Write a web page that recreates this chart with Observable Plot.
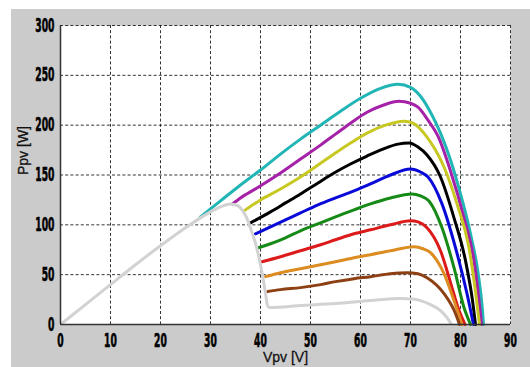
<!DOCTYPE html>
<html><head><meta charset="utf-8">
<script src="https://cdn.jsdelivr.net/npm/d3@7"></script>
<script src="https://cdn.jsdelivr.net/npm/@observablehq/plot@0.6"></script>
<style>
html,body{margin:0;padding:0;background:#fff;}
#wrap{position:relative;width:530px;height:367px;overflow:hidden;}
#bg{position:absolute;left:11px;top:9px;width:519px;height:358px;background:#cbcbcb;}
#chart{position:absolute;left:0;top:0;}
</style></head><body>
<div id="wrap"><div id="bg"></div><div id="chart"></div></div>
<script>
const xTicks = [0,10,20,30,40,50,60,70,80,90];
const yTicks = [0,50,100,150,200,250,300];
const xLabel = "Vpv [V]";
const yLabel = "Ppv [W]";

// [Vpv, Ppv]
const curve1 = [[28,108],[32,124],[36,140],[40,155],[44,171],[48,186],[52,200],[56,214],[60,227],[64,237],[67.5,241],[70,238],[72,229],[74,213],[76,192],[78,165],[80,131],[82,91],[83.5,52],[84.4,14],[84.6,0]];
const curve2 = [[34.4,121],[36,127],[39.3,137],[44,152],[48,166],[52,180],[55,191],[58,202],[61.3,213],[64.5,220],[67.7,224],[70,222],[71.5,218],[73.5,205],[75.5,189],[78,154],[80.7,107],[82.7,64],[83.8,20],[84.2,0]];
const curve3 = [[36.7,114],[40,125],[44,136],[48,148],[51.5,160],[54.7,171],[58,182],[61.3,192],[65,200],[68.7,204],[70.5,202],[73.3,188],[75,175],[76.7,158],[79.3,121],[81.7,77],[83,33],[83.8,0]];
const curve4 = [[38,102],[42,113],[45,122],[48,131],[51.5,142],[54.7,152],[58,161],[61.3,169],[64.5,176],[67.5,181],[69.7,182],[71.5,178],[73.3,170],[76,148],[78.7,107],[81,64],[82.4,24],[83,0]];
const curve5 = [[39,91],[42,98],[45,105],[48,112],[51.5,120],[55,127],[58.7,134],[62,141],[66,150],[70,156],[72,153],[73.5,148],[76.3,121],[79,77],[81.3,31],[82.6,0]];
const curve6 = [[39.6,77],[42,81],[45,87],[48,94],[52,102],[55,108],[58.7,115],[62,121],[66,127],[70.3,131],[72,129],[73.7,124],[76.3,97],[78.7,57],[80.7,17],[82,0]];
const curve7 = [[40.3,63],[44,68],[48,74],[52,80],[55,85],[58.7,91],[62,95],[66,100],[70,104],[71.5,103],[73.3,97],[76,74],[78.3,37],[79.5,17],[80.9,0]];
const curve8 = [[41,48],[44,52],[48,56],[52,60],[55,63],[58.7,67],[62,70],[66,74],[70.7,78],[72.5,76],[74,72],[76.7,51],[78.7,24],[80.3,0]];
const curve9 = [[41.4,33],[44,35],[48,37],[52,40],[55,43],[58.7,46],[62,48],[66,51],[69.3,52],[71.5,51],[73.3,47],[76.7,31],[79,11],[79.8,0]];
const curve10 = [[0,0],[5,20],[10,40],[15,60],[20,79],[25,97],[28,107],[30,113],[32,118],[34,121],[35.5,119],[36.7,112],[37.5,104],[38.3,92],[39.2,78],[39.7,67],[40.3,52],[40.7,41],[41.1,28],[41.4,19],[41.8,17],[48,19],[55,21],[62,24],[68,26],[70.5,25.5],[72,24],[74,20],[76,14],[77.3,7],[78.2,0]];

const seriesNames = ["curve 1","curve 2","curve 3","curve 4","curve 5","curve 6","curve 7","curve 8","curve 9","curve 10"];
const seriesColors = ["#22b5b5","#a421a8","#c8c823","#000000","#0a0ad8","#168a16","#dc1a1a","#dc8c20","#8c4014","#d2d2d2"];
const seriesPoints = [curve1,curve2,curve3,curve4,curve5,curve6,curve7,curve8,curve9,curve10];

const data = seriesNames.flatMap((name,i) => seriesPoints[i].map(([v,p]) => ({series:name, v, p})));

const plot = Plot.plot({
  width:530, height:367,
  marginLeft:60, marginRight:20, marginTop:25, marginBottom:43,
  style:{background:"transparent", fontFamily:"'Liberation Sans', Arial, sans-serif", overflow:"visible", color:"#000"},
  x:{domain:[0,90]},
  y:{domain:[0,300]},
  color:{type:"ordinal", domain:seriesNames, range:seriesColors},
  marks:[
    Plot.frame({fill:"white", stroke:"none"}),
    Plot.gridX(xTicks.slice(1), {stroke:"#111", strokeOpacity:0.85, strokeDasharray:"3,2.2", strokeWidth:1}),
    Plot.gridY(yTicks.slice(1), {stroke:"#111", strokeOpacity:0.85, strokeDasharray:"3,2.2", strokeWidth:1}),
    Plot.line(data, {x:"v", y:"p", z:"series", stroke:"series", strokeWidth:3, curve:"monotone-x"}),
    Plot.ruleX([0], {stroke:"#333", strokeWidth:1.5}),
    Plot.ruleY([0], {stroke:"#333", strokeWidth:1.5}),
    Plot.axisX(xTicks, {tickSize:0, tickPadding:9, fontSize:19, fontWeight:"bold", fontFamily:"'Liberation Sans Narrow','DejaVu Sans Condensed',sans-serif", label:null}),
    Plot.axisY(yTicks, {tickSize:0, tickPadding:6, fontSize:19, fontWeight:"bold", fontFamily:"'Liberation Sans Narrow','DejaVu Sans Condensed',sans-serif", label:null}),
    Plot.text([xLabel], {frameAnchor:"bottom", lineAnchor:"top", dy:28, fontSize:14, fill:"#111", stroke:"#111", strokeWidth:0.3}),
    Plot.text([yLabel], {frameAnchor:"left", rotate:-90, dx:-37, fontSize:14, fill:"#111", stroke:"#111", strokeWidth:0.3})
  ]
});
document.getElementById("chart").appendChild(plot);
plot.querySelectorAll('g[aria-label="x-axis tick label"] text, g[aria-label="y-axis tick label"] text').forEach(t => {
  const n = t.textContent.length;
  t.setAttribute("textLength", (6.4*n).toFixed(1));
  t.setAttribute("lengthAdjust", "spacingAndGlyphs");
  t.setAttribute("stroke", "#000");
  t.setAttribute("stroke-width", "0.6");
});
</script>
</body></html>
